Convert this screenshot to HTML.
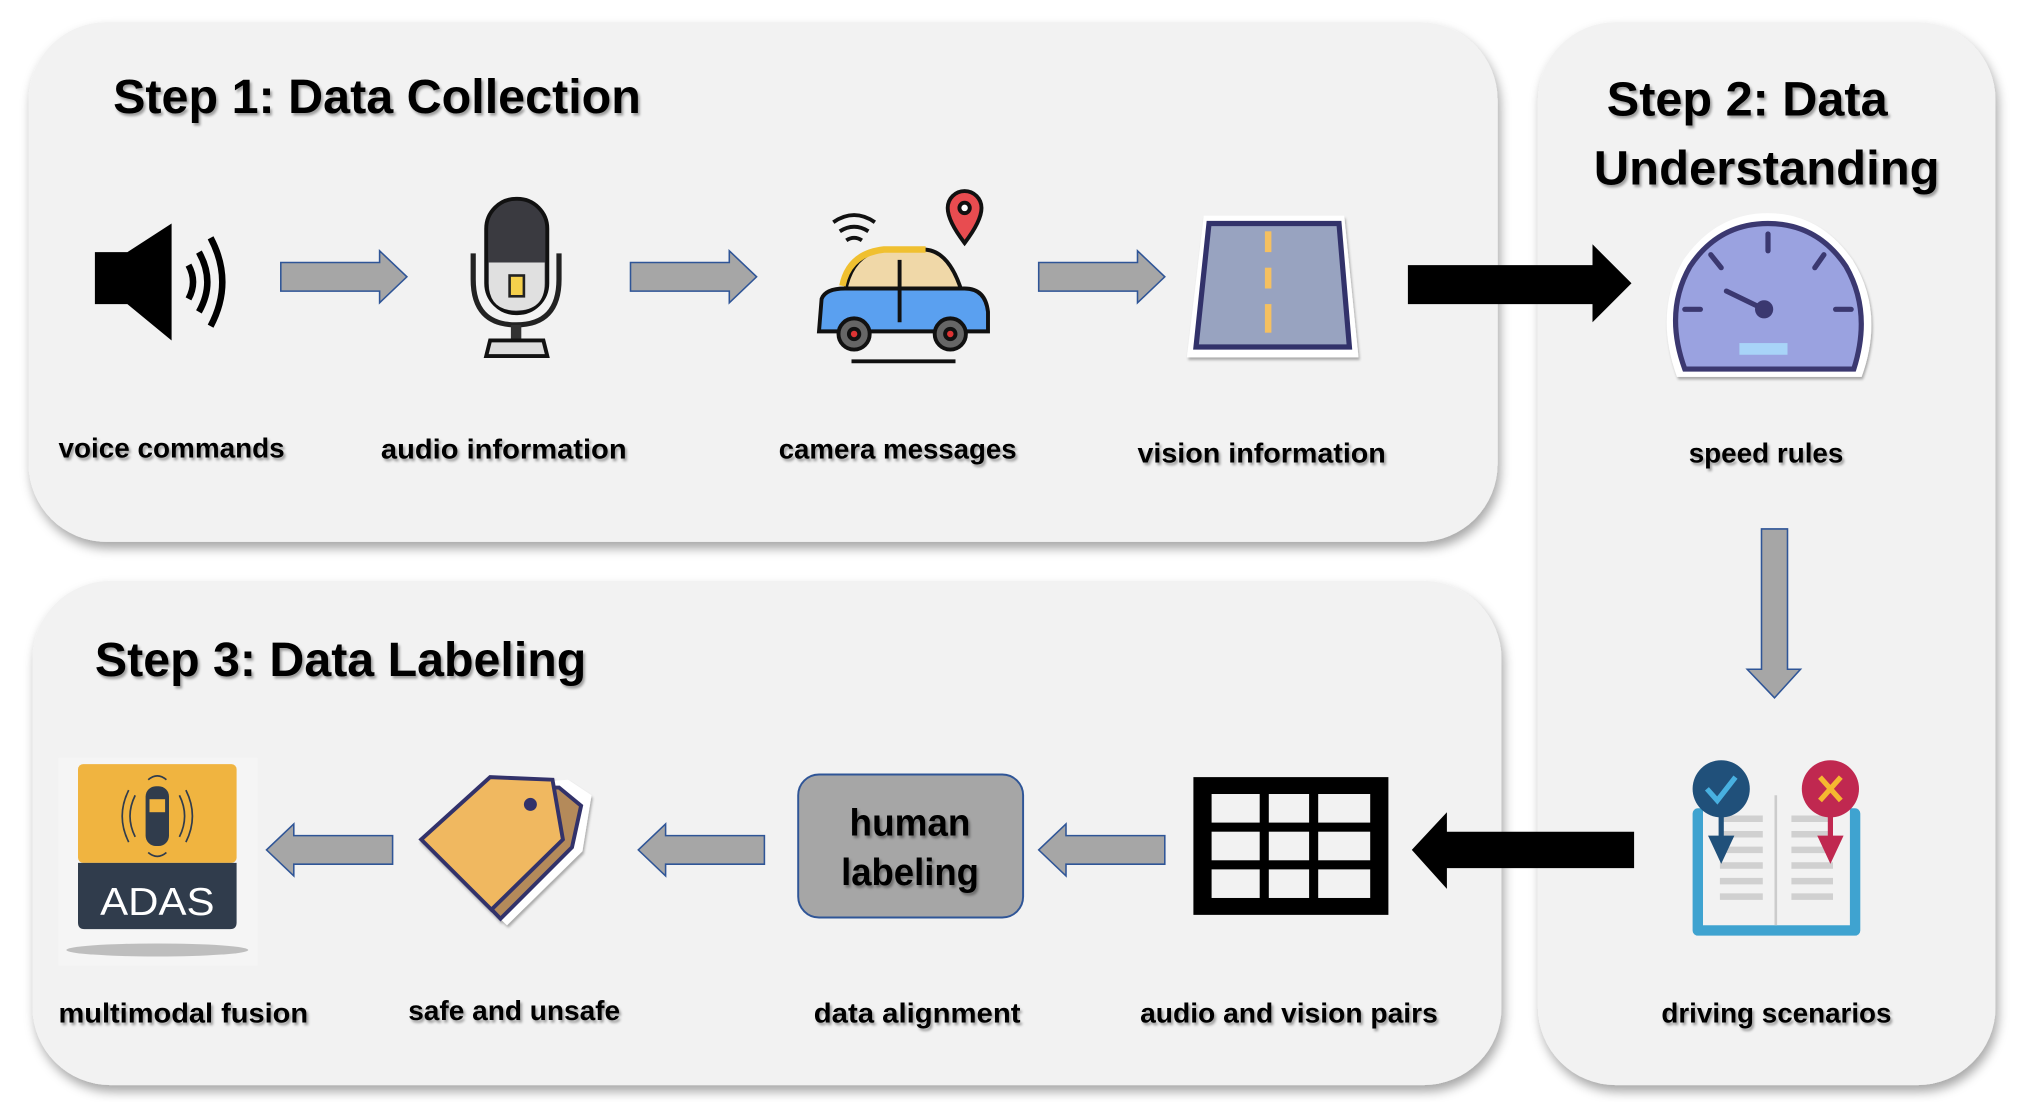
<!DOCTYPE html>
<html><head><meta charset="utf-8"><style>
html,body{margin:0;padding:0;background:#fff;}
svg{display:block;}
text{font-family:"Liberation Sans",sans-serif;font-weight:bold;}
</style></head><body>
<svg width="2028" height="1102" viewBox="0 0 1560 848" preserveAspectRatio="none" xmlns="http://www.w3.org/2000/svg">
<defs>
<filter id="sh" x="-10%" y="-10%" width="120%" height="130%"><feDropShadow dx="2" dy="5" stdDeviation="4" flood-color="#000" flood-opacity="0.35"/></filter>
<filter id="ts"><feDropShadow dx="1.5" dy="2" stdDeviation="1" flood-color="#000" flood-opacity="0.35"/></filter>
<filter id="ws"><feDropShadow dx="1" dy="2" stdDeviation="1" flood-color="#000" flood-opacity="0.3"/></filter>
</defs>
<rect width="1560" height="848" fill="#fff"/>
<!-- panels -->
<rect x="22" y="17" width="1130" height="400" rx="60" fill="#f2f2f2" filter="url(#sh)"/>
<rect x="25" y="447" width="1130" height="388" rx="60" fill="#f2f2f2" filter="url(#sh)"/>
<rect x="1183" y="17" width="352" height="818" rx="60" fill="#f2f2f2" filter="url(#sh)"/>

<g filter="url(#ts)" fill="#000">
<text x="87" y="87" font-size="37" textLength="406" lengthAdjust="spacingAndGlyphs">Step 1: Data Collection</text>
<text x="1236" y="89" font-size="37" textLength="216" lengthAdjust="spacingAndGlyphs">Step 2: Data</text>
<text x="1226" y="142" font-size="37" textLength="266" lengthAdjust="spacingAndGlyphs">Understanding</text>
<text x="73" y="520" font-size="37" textLength="378" lengthAdjust="spacingAndGlyphs">Step 3: Data Labeling</text>
<g font-size="21">
<text x="45" y="352" textLength="174" lengthAdjust="spacingAndGlyphs">voice commands</text>
<text x="293" y="353" textLength="189" lengthAdjust="spacingAndGlyphs">audio information</text>
<text x="599" y="353" textLength="183" lengthAdjust="spacingAndGlyphs">camera messages</text>
<text x="875" y="356" textLength="191" lengthAdjust="spacingAndGlyphs">vision information</text>
<text x="1299" y="356" textLength="119" lengthAdjust="spacingAndGlyphs">speed rules</text>
<text x="1278" y="787" textLength="177" lengthAdjust="spacingAndGlyphs">driving scenarios</text>
<text x="877" y="787" textLength="229" lengthAdjust="spacingAndGlyphs">audio and vision pairs</text>
<text x="626" y="787" textLength="159" lengthAdjust="spacingAndGlyphs">data alignment</text>
<text x="314" y="785" textLength="163" lengthAdjust="spacingAndGlyphs">safe and unsafe</text>
<text x="45" y="787" textLength="192" lengthAdjust="spacingAndGlyphs">multimodal fusion</text>
</g>
</g>

<!-- gray arrows -->
<g fill="#a6a6a6" stroke="#2f5597" stroke-width="1.2">
<path d="M216,202 H292 V193 L313,213 L292,233 V224 H216 Z"/>
<path d="M485,202 H561 V193 L582,213 L561,233 V224 H485 Z"/>
<path d="M799,202 H875 V193 L896,213 L875,233 V224 H799 Z"/>
<path d="M302,643 H226 V634 L205,654 L226,674 V665 H302 Z"/>
<path d="M588,643 H512 V634 L491,654 L512,674 V665 H588 Z"/>
<path d="M896,643 H820 V634 L799,654 L820,674 V665 H896 Z"/>
<path d="M1355,407 H1375 V515 H1385 L1365,537 L1344,515 H1355 Z"/>
</g>
<!-- black arrows -->
<path d="M1083,204 H1225 V188 L1255,218 L1225,248 V234 H1083 Z" fill="#000"/>
<path d="M1257,640 H1113 V625 L1086,654 L1113,684 V668 H1257 Z" fill="#000"/>

<!-- speaker -->
<path d="M73,194 H98 L132,172 V262 L98,234 H73 Z" fill="#000"/>
<g fill="none" stroke="#000" stroke-width="5">
<path d="M145,204 Q152,217 145,230"/>
<path d="M153,194 Q166,217 153,240"/>
<path d="M162,183 Q180,217 162,251"/>
</g>
<!-- mic -->
<g>
<path d="M364,195 V215 Q364,250 397,250 Q430,250 430,215 V195" fill="none" stroke="#222" stroke-width="4"/>
<rect x="374" y="153" width="47" height="88" rx="23" fill="#3a3a40" stroke="#111" stroke-width="3"/>
<path d="M376,202 H419 V218 Q419,239 397,239 Q376,239 376,218 Z" fill="#e0e0e0"/>
<rect x="392" y="212" width="11" height="16" fill="#f5d04c" stroke="#222" stroke-width="2"/>
<rect x="393" y="250" width="8" height="12" fill="#333"/>
<path d="M374,274 L377,262 H418 L421,274 Z" fill="#ddd" stroke="#111" stroke-width="3"/>
</g>
<!-- car -->
<g stroke="#111" stroke-width="3">
<path d="M650,225 Q655,195 680,192 H710 Q730,192 740,225 Z" fill="#f0d8a8"/>
<path d="M648,220 Q653,195 680,192 H712" fill="none" stroke="#f0c030" stroke-width="5"/>
<path d="M632,230 Q635,222 650,222 H742 Q758,222 760,240 V255 H630 Z" fill="#5aa0f0"/>
<circle cx="657" cy="257" r="12" fill="#666"/><circle cx="657" cy="257" r="4" fill="#d33"/>
<circle cx="731" cy="257" r="12" fill="#666"/><circle cx="731" cy="257" r="4" fill="#d33"/>
<line x1="692" y1="200" x2="692" y2="248"/>
<line x1="655" y1="278" x2="735" y2="278"/>
<path d="M742,187 Q729,170 729,160 A13,13 0 0 1 755,160 Q755,170 742,187 Z" fill="#e84c50"/>
<circle cx="742" cy="160" r="4" fill="#fff"/>
<path d="M641,171 Q657,160 673,171 M646,178 Q657,171 668,178 M651,185 Q657,181 663,185" fill="none"/>
</g>
<!-- road -->
<g filter="url(#ws)">
<path d="M926,166 H1034 L1045,275 H913 Z" fill="#fff"/>
<path d="M930,172 H1030 L1038,267 H920 Z" fill="#98a3c0" stroke="#33306a" stroke-width="4"/>
<rect x="973" y="178" width="5" height="16" fill="#f5c060"/>
<rect x="973" y="206" width="5" height="16" fill="#f5c060"/>
<rect x="973" y="234" width="5" height="22" fill="#f5c060"/>
</g>
<!-- speedometer -->
<g filter="url(#ws)">
<path d="M1290,290 Q1272,240 1295,200 Q1320,164 1360,164 Q1400,164 1425,200 Q1450,240 1432,290 Z" fill="#fff"/>
<path d="M1296,284 Q1280,240 1300,205 Q1322,172 1360,172 Q1398,172 1420,205 Q1440,240 1426,284 Z" fill="#9aa2e0" stroke="#3a3870" stroke-width="4"/>
<g stroke="#3a3870" stroke-width="4" stroke-linecap="round">
<line x1="1360" y1="180" x2="1360" y2="193"/><line x1="1316" y1="196" x2="1324" y2="206"/><line x1="1403" y1="196" x2="1396" y2="206"/>
<line x1="1296" y1="238" x2="1308" y2="238"/><line x1="1412" y1="238" x2="1424" y2="238"/>
<line x1="1328" y1="224" x2="1357" y2="238"/></g>
<circle cx="1357" cy="238" r="7" fill="#3a3870"/>
<rect x="1338" y="264" width="37" height="9" fill="#a8d4f8"/>
</g>
<!-- book -->
<g>
<rect x="1302" y="622" width="129" height="98" rx="4" fill="#3fa3d0"/>
<rect x="1310" y="612" width="113" height="100" fill="#f2f2f2"/>
<line x1="1366" y1="612" x2="1366" y2="712" stroke="#ccc" stroke-width="2"/>
<g stroke="#d0d0d0" stroke-width="5">
<path d="M1323,630 H1356 M1323,642 H1356 M1323,654 H1356 M1323,666 H1356 M1323,678 H1356 M1323,690 H1356 M1378,630 H1410 M1378,642 H1410 M1378,654 H1410 M1378,666 H1410 M1378,678 H1410 M1378,690 H1410"/></g>
<circle cx="1324" cy="607" r="22" fill="#20507a"/>
<path d="M1313,607 L1321,616 L1335,598" fill="none" stroke="#48b0e0" stroke-width="4"/>
<path d="M1324,625 V650 M1317,645 L1324,660 L1331,645 Z" stroke="#20507a" stroke-width="4" fill="#20507a"/>
<circle cx="1408" cy="607" r="22" fill="#c02850"/>
<path d="M1400,598 L1416,616 M1416,598 L1400,616" stroke="#f5b830" stroke-width="4"/>
<path d="M1408,625 V650 M1401,645 L1408,660 L1415,645 Z" stroke="#c02850" stroke-width="4" fill="#c02850"/>
</g>
<!-- grid -->
<g>
<rect x="918" y="598" width="150" height="106" fill="#000"/>
<g fill="#f2f2f2">
<rect x="932" y="611" width="37" height="22"/><rect x="976" y="611" width="31" height="22"/><rect x="1014" y="611" width="40" height="22"/>
<rect x="932" y="640" width="37" height="22"/><rect x="976" y="640" width="31" height="22"/><rect x="1014" y="640" width="40" height="22"/>
<rect x="932" y="669" width="37" height="22"/><rect x="976" y="669" width="31" height="22"/><rect x="1014" y="669" width="40" height="22"/>
</g></g>
<!-- human labeling -->
<rect x="614" y="596" width="173" height="110" rx="16" fill="#a6a6a6" stroke="#2f5597" stroke-width="1.5"/>
<g filter="url(#ts)" font-size="29" fill="#000">
<text x="700" y="643" text-anchor="middle" textLength="93" lengthAdjust="spacingAndGlyphs">human</text>
<text x="700" y="681" text-anchor="middle" textLength="106" lengthAdjust="spacingAndGlyphs">labeling</text>
</g>
<!-- tag -->
<g filter="url(#ws)">
<path d="M378,604 L437,600 L455,612 L448,655 L390,712 L326,650 Z" fill="#fff"/>
<path d="M382,606 L430,606 L447,620 L440,652 L385,707 L332,652 Z" fill="#b48a5a" stroke="#33306a" stroke-width="3"/>
<path d="M377,598 L425,600 L433,646 L378,700 L324,646 Z" fill="#f0b860" stroke="#33306a" stroke-width="3"/>
<circle cx="408" cy="619" r="5" fill="#33306a"/>
</g>
<!-- ADAS -->
<rect x="45" y="583" width="153" height="160" fill="#f5f5f5"/>
<rect x="60" y="588" width="122" height="76" rx="4" fill="#f0b440"/>
<path d="M60,664 H182 V710 Q182,715 177,715 H65 Q60,715 60,710 Z" fill="#303c4c"/>
<text x="121" y="704" text-anchor="middle" font-size="30" fill="#fff" style="font-weight:normal" textLength="88" lengthAdjust="spacingAndGlyphs">ADAS</text>
<rect x="112" y="605" width="18" height="46" rx="8" fill="#303c4c"/>
<rect x="115" y="615" width="12" height="10" fill="#f0b440"/>
<g fill="none" stroke="#303c4c" stroke-width="1.3">
<path d="M104,612 Q96,628 104,644 M99,608 Q89,628 99,648 M138,612 Q146,628 138,644 M143,608 Q153,628 143,648 M114,600 Q121,594 128,600 M114,656 Q121,662 128,656"/></g>
<ellipse cx="121" cy="731" rx="70" ry="5" fill="#999" opacity="0.6"/>
</svg>
</body></html>
